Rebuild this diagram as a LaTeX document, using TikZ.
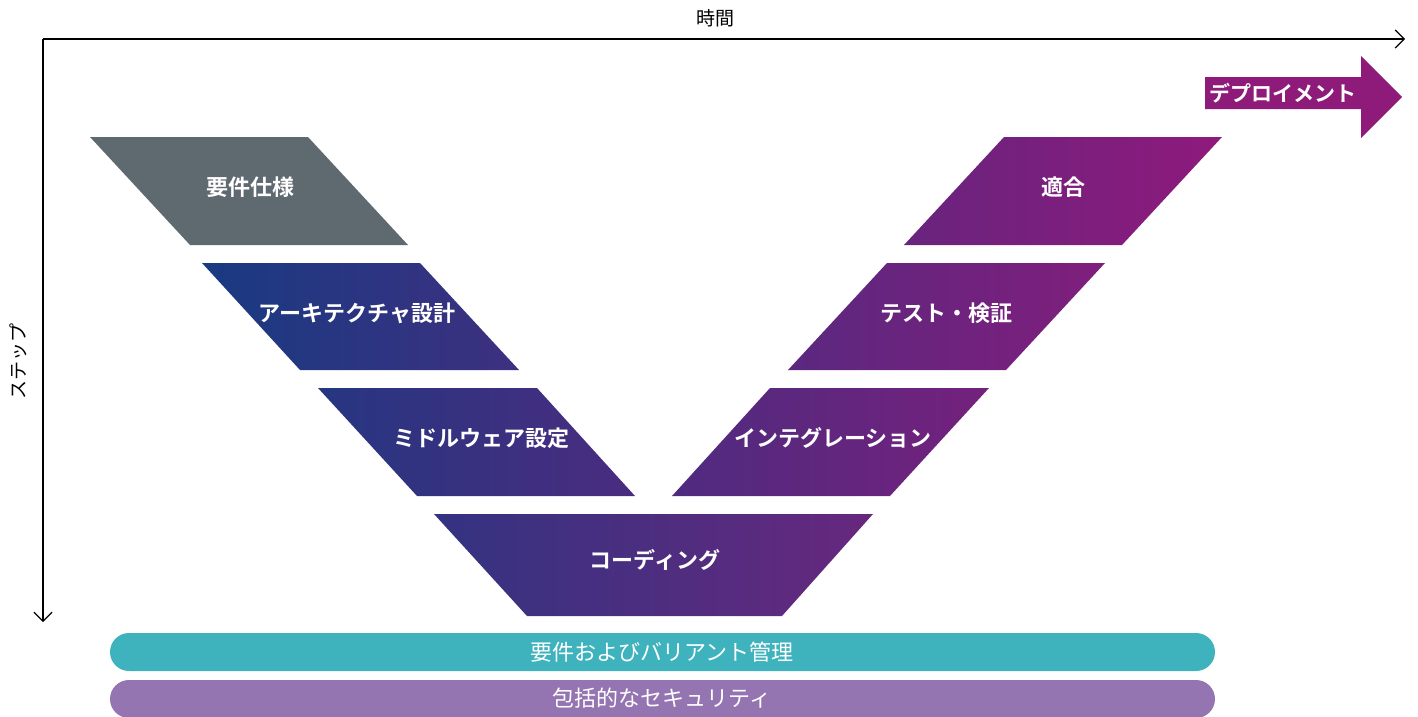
\documentclass[tikz,border=0pt]{standalone}
\usepackage{fontspec}
\setmainfont{Noto Sans CJK JP}
\newfontfamily\jpb{Noto Sans CJK JP Bold}
\usetikzlibrary{arrows.meta}
\definecolor{gray1}{RGB}{95,105,112}
\definecolor{teal1}{RGB}{63,179,189}
\definecolor{purp1}{RGB}{148,116,177}
\definecolor{deploy}{RGB}{142,26,122}
\definecolor{cA1}{RGB}{25,58,130}\definecolor{cA2}{RGB}{61,48,128}
\definecolor{cB1}{RGB}{38,54,129}\definecolor{cB2}{RGB}{74,44,127}
\definecolor{cC1}{RGB}{51,51,129}\definecolor{cC2}{RGB}{103,40,126}
\definecolor{cD1}{RGB}{78,43,127}\definecolor{cD2}{RGB}{116,33,125}
\definecolor{cE1}{RGB}{91,40,127}\definecolor{cE2}{RGB}{128,30,125}
\definecolor{cF1}{RGB}{104,36,126}\definecolor{cF2}{RGB}{142,26,124}
\tikzset{
  axis/.style={line width=1.2pt, -{Straight Barb[length=9pt,width=18pt,line width=1.2pt]}},
  steplabel/.style={text=white, font=\jpb\fontsize{22}{26}\selectfont, inner sep=0pt},
  barlabel/.style={text=white, font=\fontsize{22}{26}\selectfont, inner sep=0pt},
  axislabel/.style={text=black, font=\fontsize{19}{22}\selectfont, inner sep=0pt},
}
\begin{document}
\begin{tikzpicture}[x=1pt,y=-1pt]
\useasboundingbox (0,0) rectangle (1418,717);
\clip (0,0) rectangle (1418,717);
% axes
\coordinate (o) at (43,39);
\coordinate (xend) at (1405,39);
\coordinate (yend) at (43,622);
\draw[axis] (o) -- (xend);
\draw[axis] (o) -- (yend);
\node[axislabel] (time) at (715,18) {時間};
\node[axislabel, rotate=90] (step) at (18,361) {ステップ};
% left branch
\fill[gray1] (90,137) -- (308,137) -- (408,245) -- (190,245) -- cycle;
\node[steplabel] (req) at (250,187) {要件仕様};
\shade[left color=cA1, right color=cA2] (202,263) -- (420,263) -- (519,370) -- (300,370) -- cycle;
\node[steplabel] (arch) at (357,313) {アーキテクチャ設計};
\shade[left color=cB1, right color=cB2] (318,388) -- (537,388) -- (635,496) -- (417,496) -- cycle;
\node[steplabel] (mid) at (481,438) {ミドルウェア設定};
% bottom
\shade[left color=cC1, right color=cC2] (434,514) -- (873,514) -- (782,616) -- (527,616) -- cycle;
\node[steplabel] (code) at (655,560) {コーディング};
% right branch
\shade[left color=cD1, right color=cD2] (770,388) -- (989,388) -- (890,496) -- (672,496) -- cycle;
\node[steplabel] (integ) at (833,438) {インテグレーション};
\shade[left color=cE1, right color=cE2] (887,263) -- (1105,263) -- (1006,370) -- (788,370) -- cycle;
\node[steplabel] (test) at (946,313) {テスト・検証};
\shade[left color=cF1, right color=cF2] (1004,137) -- (1222,137) -- (1122,245) -- (904,245) -- cycle;
\node[steplabel] (fit) at (1063,187) {適合};
% deploy arrow
\fill[deploy] (1205,77) -- (1361,77) -- (1361,56) -- (1402,97) -- (1361,138) -- (1361,109) -- (1205,109) -- cycle;
\node[steplabel, font=\jpb\fontsize{21}{25}\selectfont] (deploy) at (1283,93) {デプロイメント};
% bars
\fill[teal1, rounded corners=19pt] (110,633) rectangle (1215,671);
\node[barlabel] (reqmgmt) at (662,652) {要件およびバリアント管理};
\fill[purp1, rounded corners=19pt] (110,680) rectangle (1215,718);
\node[barlabel] (sec) at (662,698) {包括的なセキュリティ};
\end{tikzpicture}
\end{document}
